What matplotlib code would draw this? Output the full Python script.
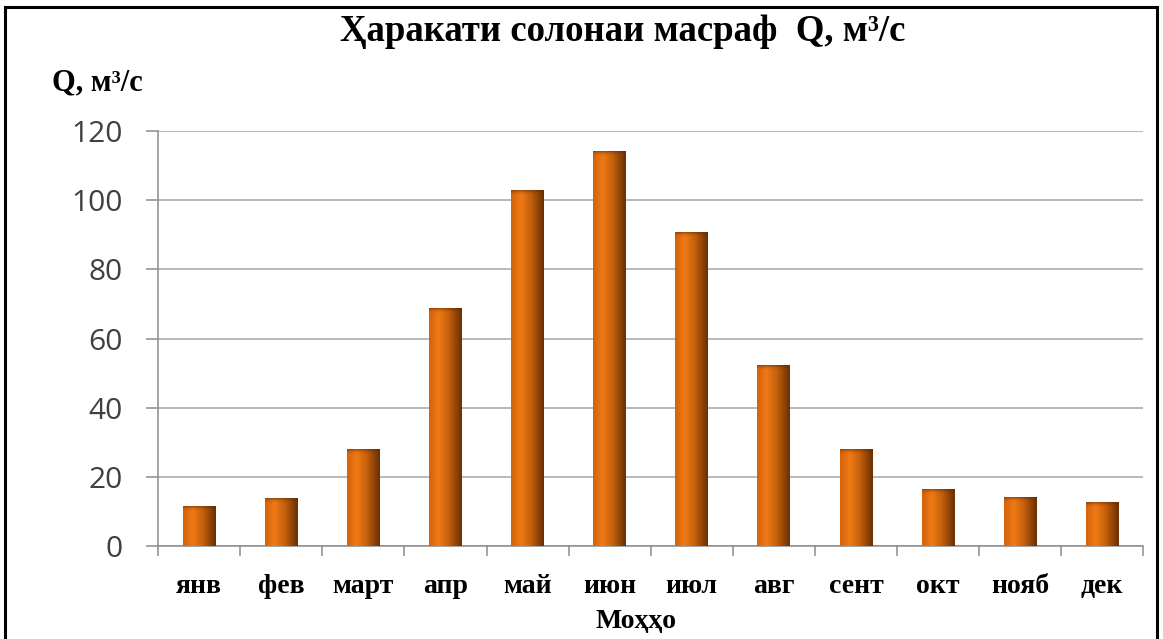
import numpy as np
import matplotlib
matplotlib.use("Agg")
import matplotlib.pyplot as plt
from matplotlib.colors import LinearSegmentedColormap
from matplotlib.patches import Rectangle

# Месяцы и расход Q, м3/с
months = ["янв", "фев", "март", "апр", "май", "июн", "июл", "авг", "сент", "окт", "нояб", "дек"]
flow = [11.6, 13.9, 28.0, 68.8, 102.9, 114.2, 90.8, 52.3, 28.0, 16.5, 14.2, 12.7]
y_ticks = [0, 20, 40, 60, 80, 100, 120]

serif = ["Liberation Serif", "DejaVu Serif"]

# градиент "цилиндра" как в Excel
cyl = LinearSegmentedColormap.from_list(
    "cyl", [(0.0, "#d2620c"), (0.3, "#f07a14"), (0.6, "#c4600c"), (1.0, "#6a2f02")])

fig = plt.figure(figsize=(11.63, 6.39), dpi=100)
ax = fig.add_axes([0.136, 0.1455, 0.847, 0.6495])

x = np.arange(len(months))
bars = ax.bar(x, flow, width=0.4, color="none", edgecolor="none", zorder=3)

grad = np.linspace(0, 1, 256).reshape(1, -1)
for b in bars:
    x0, y0 = b.get_x(), b.get_y()
    w, h = b.get_width(), b.get_height()
    im = ax.imshow(grad, cmap=cyl, aspect="auto", extent=[x0, x0 + w, y0, y0 + h],
                   zorder=3, interpolation="bilinear")
    im.set_clip_path(b)
    # тёмная кромка сверху
    top = np.linspace(0, 1, 64)
    shade = np.zeros((64, 1, 4))
    shade[:, 0, 0] = 0.35
    shade[:, 0, 1] = 0.15
    shade[:, 0, 2] = 0.0
    shade[:, 0, 3] = (top ** 3) * 0.6
    th = min(2.0, h)
    ax.imshow(shade, aspect="auto", extent=[x0, x0 + w, y0 + h - th, y0 + h],
              zorder=4, origin="lower", interpolation="bilinear")

ax.set_xlim(-0.5, len(months) - 0.5)
ax.set_ylim(0, 120)
ax.set_yticks(y_ticks)
ax.yaxis.grid(True, color="#a6a6a6", linewidth=1.1, zorder=0)
ax.set_axisbelow(True)

# подписи месяцев по центру, засечки по границам
ax.set_xticks(x)
ax.set_xticklabels(months, fontfamily=serif, fontweight="bold", fontsize=20, color="black")
ax.tick_params(axis="x", which="major", length=0, pad=20)
ax.set_xticks(np.arange(len(months) + 1) - 0.5, minor=True)
ax.tick_params(axis="x", which="minor", length=7, width=1.1, color="#8c8c8c")
ax.tick_params(axis="y", length=8.5, width=1.1, color="#8c8c8c", labelsize=21.5,
               labelcolor="#404040", pad=17)
for lbl in ax.get_yticklabels():
    lbl.set_fontfamily("Open Sans")

for s in ["top", "right"]:
    ax.spines[s].set_visible(False)
for s in ["left", "bottom"]:
    ax.spines[s].set_color("#8c8c8c")
    ax.spines[s].set_linewidth(1.1)

fig.text(0.535, 0.950, "Ҳаракати солонаи масраф  Q, м³/с", ha="center", va="center",
         fontfamily=serif, fontweight="bold", fontsize=26.5)
fig.text(0.045, 0.870, "Q, м³/с", ha="left", va="center",
         fontfamily=serif, fontweight="bold", fontsize=22)
fig.text(0.547, 0.027, "Моҳҳо", ha="center", va="center",
         fontfamily=serif, fontweight="bold", fontsize=20)

# рамка вокруг рисунка
fig.patches.append(Rectangle((5 / 1163, -0.02), 1152 / 1163, 1.02 - 7 / 639,
                             transform=fig.transFigure, fill=False,
                             edgecolor="black", linewidth=2.2))

fig.savefig("out.png", dpi=100)
